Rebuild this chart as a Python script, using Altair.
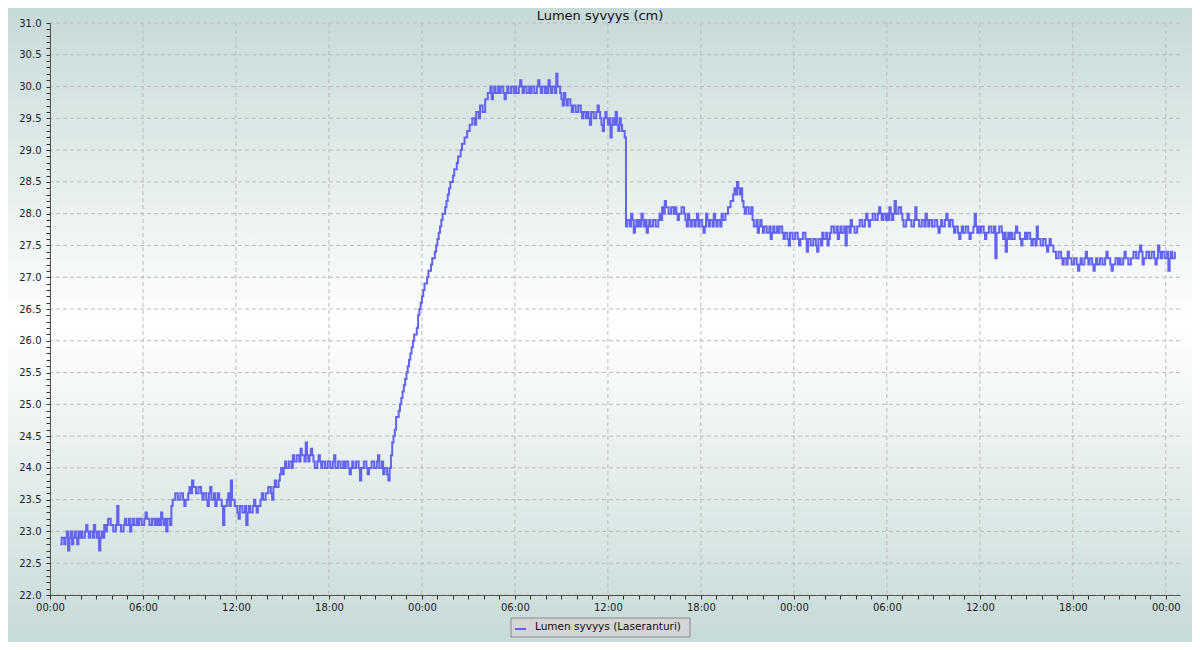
import altair as alt
import pandas as pd

# ---------------- data ----------------
title_text = "Lumen syvyys (cm)"
series_name = "Lumen syvyys (Laseranturi)"
sample_minutes = 10          # a-values at :00,:10,...; b-values 5 minutes later

# day 1: starts 00:40
day1_start_minute = 40
day1_values_a = [
    22.8, 22.9,
    22.9, 22.7, 23.0, 22.9, 22.9, 23.0,
    23.0, 22.9, 23.1, 22.9, 23.0, 23.1,
    22.9, 22.7, 23.0, 23.1, 23.1, 23.2,
    23.1, 23.0, 23.4, 23.1, 23.0, 23.2,
    23.1, 23.0, 23.2, 23.1, 23.1, 23.2,
    23.1, 23.3, 23.2, 23.1, 23.2, 23.2,
    23.2, 23.3, 23.1, 23.0, 23.2, 23.4,
    23.5, 23.6, 23.5, 23.6, 23.4, 23.5,
    23.7, 23.8, 23.7, 23.6, 23.7, 23.5,
    23.6, 23.4, 23.7, 23.5, 23.4, 23.6,
    23.5, 23.1, 23.4, 23.6, 23.8, 23.5,
    23.4, 23.2, 23.4, 23.3, 23.1, 23.4,
    23.3, 23.5, 23.3, 23.4, 23.6, 23.5,
    23.6, 23.7, 23.5, 23.8, 23.7, 23.9,
    23.9, 24.1, 24.0, 24.1, 24.2, 24.1,
    24.2, 24.3, 24.2, 24.4, 24.1, 24.3,
    24.1, 24.0, 24.2, 24.0, 24.1, 24.0,
    24.1, 24.0, 24.2, 24.0, 24.1, 24.0,
    24.0, 24.1, 23.9, 24.1, 24.0, 24.1,
    23.8, 24.0, 24.1, 23.9, 24.0, 24.1,
    24.0, 24.2, 24.0, 23.9, 24.0, 23.8,
    24.2, 24.5, 24.8, 24.9, 25.1, 25.3,
    25.5, 25.7, 25.9, 26.1, 26.2, 26.5,
]
day1_values_b = [
    22.9, 22.8,
    23.0, 22.9, 22.8, 23.0, 22.8, 22.9,
    22.9, 23.0, 23.0, 23.0, 22.9, 23.0,
    23.0, 22.9, 22.9, 23.0, 23.2, 23.1,
    23.0, 23.1, 23.1, 23.0, 23.1, 23.1,
    23.2, 23.1, 23.1, 23.2, 23.2, 23.1,
    23.2, 23.2, 23.1, 23.2, 23.1, 23.1,
    23.1, 23.2, 23.2, 23.2, 23.1, 23.5,
    23.6, 23.5, 23.6, 23.5, 23.5, 23.6,
    23.6, 23.7, 23.6, 23.7, 23.6, 23.6,
    23.5, 23.6, 23.5, 23.6, 23.5, 23.5,
    23.4, 23.4, 23.5, 23.4, 23.5, 23.4,
    23.3, 23.4, 23.3, 23.4, 23.3, 23.3,
    23.4, 23.4, 23.4, 23.5, 23.5, 23.6,
    23.7, 23.6, 23.7, 23.7, 23.8, 24.0,
    24.0, 24.0, 24.1, 24.0, 24.1, 24.2,
    24.1, 24.2, 24.1, 24.2, 24.2, 24.2,
    24.0, 24.1, 24.1, 24.1, 24.0, 24.1,
    24.0, 24.1, 24.0, 24.1, 24.0, 24.1,
    24.1, 24.0, 24.0, 24.0, 24.1, 24.0,
    24.0, 24.1, 24.0, 24.0, 24.1, 24.0,
    24.1, 24.0, 24.1, 24.0, 23.9, 24.0,
    24.4, 24.6, 24.8, 25.0, 25.2, 25.4,
    25.6, 25.8, 26.0, 26.1, 26.4, 26.6,
]

# day 2: starts 00:00
day2_start_minute = 24 * 60
day2_values_a = [
    26.7, 26.9, 27.0, 27.1, 27.3, 27.4,
    27.6, 27.8, 28.0, 28.1, 28.3, 28.5,
    28.6, 28.7, 28.9, 29.0, 29.1, 29.2,
    29.3, 29.4, 29.5, 29.6, 29.5, 29.7,
    29.6, 29.8, 29.9, 29.8, 30.0, 29.9,
    29.9, 30.0, 29.8, 30.0, 29.9, 30.0,
    30.0, 29.9, 30.1, 29.9, 30.0, 29.9,
    29.9, 30.0, 29.9, 30.1, 29.9, 30.0,
    30.0, 30.1, 29.9, 30.0, 30.2, 30.0,
    29.8, 29.9, 29.7, 29.8, 29.6, 29.7,
    29.6, 29.7, 29.5, 29.6, 29.6, 29.4,
    29.6, 29.5, 29.7, 29.5, 29.3, 29.6,
    29.4, 29.2, 29.5, 29.6, 29.3, 29.4,
    29.3, 27.8, 27.9, 28.0, 27.7, 27.9,
    27.9, 28.0, 27.8, 27.7, 27.9, 27.8,
    27.9, 27.8, 28.0, 28.1, 28.2, 28.1,
    28.0, 28.1, 28.1, 27.9, 28.0, 28.1,
    27.9, 28.0, 27.8, 27.9, 27.9, 27.8,
    27.9, 27.7, 28.0, 27.8, 27.9, 28.0,
    27.8, 27.9, 28.0, 27.9, 28.0, 28.1,
    28.2, 28.4, 28.5, 28.3, 28.2, 28.0,
    28.1, 28.0, 27.9, 27.8, 27.7, 27.9,
    27.7, 27.8, 27.7, 27.6, 27.8, 27.7,
    27.7, 27.8, 27.6, 27.7, 27.5, 27.7,
]
day2_values_b = [
    26.8, 26.9, 27.1, 27.2, 27.3, 27.5,
    27.7, 27.9, 28.0, 28.2, 28.4, 28.5,
    28.7, 28.8, 28.9, 29.1, 29.2, 29.3,
    29.4, 29.5, 29.4, 29.6, 29.7, 29.6,
    29.8, 29.9, 30.0, 29.9, 29.9, 30.0,
    30.0, 29.9, 29.9, 29.9, 30.0, 29.9,
    29.9, 30.0, 30.0, 30.0, 29.9, 30.0,
    30.0, 29.9, 30.0, 30.0, 30.0, 29.9,
    29.9, 30.0, 30.0, 29.9, 30.0, 29.9,
    29.7, 29.8, 29.8, 29.7, 29.7, 29.6,
    29.7, 29.6, 29.6, 29.5, 29.5, 29.6,
    29.5, 29.6, 29.6, 29.4, 29.5, 29.5,
    29.5, 29.4, 29.4, 29.4, 29.5, 29.3,
    29.2, 27.9, 27.8, 27.9, 27.8, 27.8,
    27.8, 27.9, 27.9, 27.8, 27.8, 27.9,
    27.8, 27.9, 27.9, 28.0, 28.1, 28.0,
    28.1, 28.0, 28.0, 28.0, 28.1, 28.0,
    27.8, 27.9, 27.9, 27.8, 28.0, 27.9,
    27.8, 27.8, 27.9, 27.9, 27.8, 27.9,
    27.9, 27.8, 27.9, 28.0, 28.1, 28.2,
    28.3, 28.3, 28.4, 28.4, 28.1, 28.1,
    28.0, 28.1, 27.8, 27.9, 27.8, 27.8,
    27.8, 27.7, 27.8, 27.7, 27.7, 27.8,
    27.8, 27.7, 27.7, 27.6, 27.7, 27.6,
]

# day 3: starts 00:00
day3_start_minute = 48 * 60
day3_values_a = [
    27.6, 27.7, 27.5, 27.6, 27.7, 27.4,
    27.6, 27.5, 27.6, 27.4, 27.6, 27.7,
    27.6, 27.5, 27.7, 27.8, 27.7, 27.6,
    27.8, 27.7, 27.5, 27.8, 27.9, 27.8,
    27.7, 27.8, 27.9, 27.8, 28.0, 27.8,
    27.9, 28.0, 27.9, 28.1, 27.9, 28.0,
    28.0, 28.1, 27.9, 28.2, 28.0, 28.1,
    27.9, 27.8, 28.0, 27.9, 27.8, 28.1,
    27.9, 27.8, 27.9, 28.0, 27.8, 27.9,
    27.8, 27.9, 27.7, 27.9, 27.8, 28.0,
    27.8, 27.9, 27.7, 27.8, 27.6, 27.8,
    27.7, 27.8, 27.6, 27.7, 28.0, 27.7,
    27.7, 27.8, 27.6, 27.7, 27.8, 27.7,
    27.3, 27.7, 27.8, 27.6, 27.4, 27.7,
    27.7, 27.6, 27.8, 27.7, 27.5, 27.6,
    27.6, 27.7, 27.5, 27.6, 27.8, 27.6,
    27.5, 27.6, 27.4, 27.6, 27.5, 27.4,
    27.3, 27.4, 27.2, 27.3, 27.4, 27.3,
    27.2, 27.3, 27.1, 27.3, 27.2, 27.4,
    27.2, 27.3, 27.1, 27.3, 27.2, 27.3,
    27.2, 27.4, 27.3, 27.1, 27.2, 27.3,
    27.3, 27.2, 27.4, 27.3, 27.2, 27.3,
    27.4, 27.3, 27.5, 27.2, 27.3, 27.4,
    27.3, 27.4, 27.2, 27.5, 27.3, 27.4,
    27.3, 27.1, 27.4, 27.3,
]
day3_values_b = [
    27.7, 27.6, 27.6, 27.7, 27.6, 27.6,
    27.5, 27.6, 27.5, 27.6, 27.5, 27.6,
    27.7, 27.6, 27.8, 27.7, 27.8, 27.7,
    27.7, 27.8, 27.8, 27.7, 27.8, 27.7,
    27.8, 27.9, 27.8, 27.9, 27.9, 27.9,
    28.0, 27.9, 28.0, 28.0, 28.0, 27.9,
    27.9, 28.0, 28.0, 28.0, 28.1, 28.0,
    27.8, 27.9, 27.9, 27.8, 27.9, 27.9,
    27.8, 27.9, 27.8, 27.9, 27.9, 27.8,
    27.9, 27.8, 27.8, 27.8, 27.9, 27.9,
    27.9, 27.8, 27.8, 27.7, 27.7, 27.7,
    27.8, 27.7, 27.7, 27.8, 27.8, 27.8,
    27.8, 27.7, 27.7, 27.8, 27.7, 27.8,
    27.7, 27.8, 27.7, 27.7, 27.6, 27.6,
    27.6, 27.7, 27.7, 27.6, 27.6, 27.7,
    27.7, 27.6, 27.6, 27.5, 27.6, 27.5,
    27.6, 27.5, 27.5, 27.5, 27.4, 27.3,
    27.4, 27.3, 27.3, 27.2, 27.3, 27.2,
    27.3, 27.2, 27.2, 27.2, 27.3, 27.3,
    27.3, 27.2, 27.2, 27.2, 27.3, 27.2,
    27.3, 27.3, 27.2, 27.2, 27.3, 27.2,
    27.2, 27.3, 27.3, 27.2, 27.3, 27.4,
    27.3, 27.4, 27.4, 27.3, 27.4, 27.3,
    27.4, 27.3, 27.3, 27.4, 27.4, 27.3,
    27.4, 27.3, 27.3, 27.4,
]

y_domain = [22.0, 31.0]
y_minor_ticks = [round(22.0 + 0.1 * i, 1) for i in range(91)]
y_major_ticks = [22.0, 22.5, 23.0, 23.5, 24.0, 24.5, 25.0, 25.5, 26.0, 26.5,
                 27.0, 27.5, 28.0, 28.5, 29.0, 29.5, 30.0, 30.5, 31.0]
x_minor_hours = list(range(0, 73))
x_major_hours = [0, 6, 12, 18, 24, 30, 36, 42, 48, 54, 60, 66, 72]
x_domain_hours = [0, 72 + 55 / 60]

# ---------------- build tables (x = hours since the first midnight) ----------------
rows = []
for start_min, vals_a, vals_b in [(day1_start_minute, day1_values_a, day1_values_b),
                                  (day2_start_minute, day2_values_a, day2_values_b),
                                  (day3_start_minute, day3_values_a, day3_values_b)]:
    for i, (va, vb) in enumerate(zip(vals_a, vals_b)):
        m = start_min + sample_minutes * i
        rows.append({"hour": m / 60.0, "value": va})
        rows.append({"hour": (m + sample_minutes / 2) / 60.0, "value": vb})
df = pd.DataFrame(rows)
vgrid_df = pd.DataFrame({"h": x_major_hours})
hgrid_df = pd.DataFrame({"v": y_major_ticks})

x_scale = alt.Scale(domain=x_domain_hours, nice=False, zero=False)
y_scale = alt.Scale(domain=y_domain, nice=False, zero=False)

FONT = "DejaVu Sans"
LINE_COLOR = "#6464f0"
W, H = 1130, 572
LEFT, TOP = 42, 15          # canvas edge -> plot area
CANVAS_W, CANVAS_H = 1184, 634   # fits the 1200x650 window with its 8px margins

x_axis = alt.Axis(
    title=None, grid=False, values=x_minor_hours,
    labelExpr="datum.value % 6 === 0 ? ((datum.value % 24 < 10 ? '0' : '') + (datum.value % 24) + ':00') : ''",
    tickSize=4,
    labelFlush=False, labelOverlap=False, labelFont=FONT, labelFontSize=10,
    labelColor="#222222", labelPadding=3, domainColor="#555555", tickColor="#333333",
    zindex=1,
)
y_axis = alt.Axis(
    title=None, grid=False, values=y_minor_ticks,
    labelExpr="abs(datum.value * 2 - round(datum.value * 2)) < 0.001 ? format(datum.value, '.1f') : ''",
    tickSize=4,
    labelOverlap=False, labelFont=FONT, labelFontSize=10, labelColor="#222222",
    labelPadding=5, domainColor="#555555", tickColor="#333333", zindex=1,
)

one_row = pd.DataFrame({"label": [title_text]})
legend_row = pd.DataFrame({"label": [series_name]})

gradient = alt.Gradient(
    gradient="linear", x1=0, y1=0, x2=0, y2=1,
    stops=[alt.GradientStop(color="#c6dad8", offset=0),
           alt.GradientStop(color="#ffffff", offset=0.5),
           alt.GradientStop(color="#c6dad8", offset=1)],
)

background = alt.Chart(one_row).mark_rect(fill=gradient).encode(
    x=alt.value(-LEFT), x2=alt.value(CANVAS_W - LEFT),
    y=alt.value(-TOP), y2=alt.value(CANVAS_H - TOP),
)

grid_style = dict(color="#bcbcbc", strokeDash=[4, 3], strokeWidth=1)
hgrid = alt.Chart(hgrid_df).mark_rule(**grid_style).encode(
    y=alt.Y("v:Q", scale=y_scale, axis=y_axis))
vgrid = alt.Chart(vgrid_df).mark_rule(**grid_style).encode(
    x=alt.X("h:Q", scale=x_scale, axis=x_axis))

line = alt.Chart(df).mark_line(interpolate="step-after", color=LINE_COLOR, strokeWidth=2).encode(
    x=alt.X("hour:Q", scale=x_scale, axis=x_axis),
    y=alt.Y("value:Q", scale=y_scale, axis=y_axis),
)

title = alt.Chart(one_row).mark_text(font=FONT, fontSize=13, color="#111111",
                                     align="center", baseline="middle").encode(
    x=alt.value(600 - 8 - LEFT), y=alt.value(16 - 8 - TOP), text="label:N")

legend_box = alt.Chart(legend_row).mark_rect(fill="#d4d4d4", stroke="#8a8a8a", strokeWidth=1).encode(
    x=alt.value(511 - 50), x2=alt.value(690 - 50), y=alt.value(618 - 23), y2=alt.value(637 - 23))
legend_mark = alt.Chart(legend_row).mark_rule(color=LINE_COLOR, strokeWidth=2).encode(
    x=alt.value(515 - 50), x2=alt.value(526 - 50), y=alt.value(629 - 23))
legend_text = alt.Chart(legend_row).mark_text(font=FONT, fontSize=10.5, color="#111111",
                                              align="left", baseline="middle").encode(
    x=alt.value(535 - 50), y=alt.value(627 - 23), text="label:N")

chart = alt.layer(
    background, hgrid, vgrid, line, title, legend_box, legend_mark, legend_text
).properties(
    width=W, height=H,
    padding={"left": LEFT, "top": TOP, "right": CANVAS_W - LEFT - W, "bottom": CANVAS_H - TOP - H},
    autosize=alt.AutoSizeParams(type="none"),
).configure_view(
    stroke="#666666", strokeWidth=1,
).configure(
    background="#c6dad8", font=FONT,
)

chart.save("out.html", embed_options={"renderer": "svg", "actions": False})
